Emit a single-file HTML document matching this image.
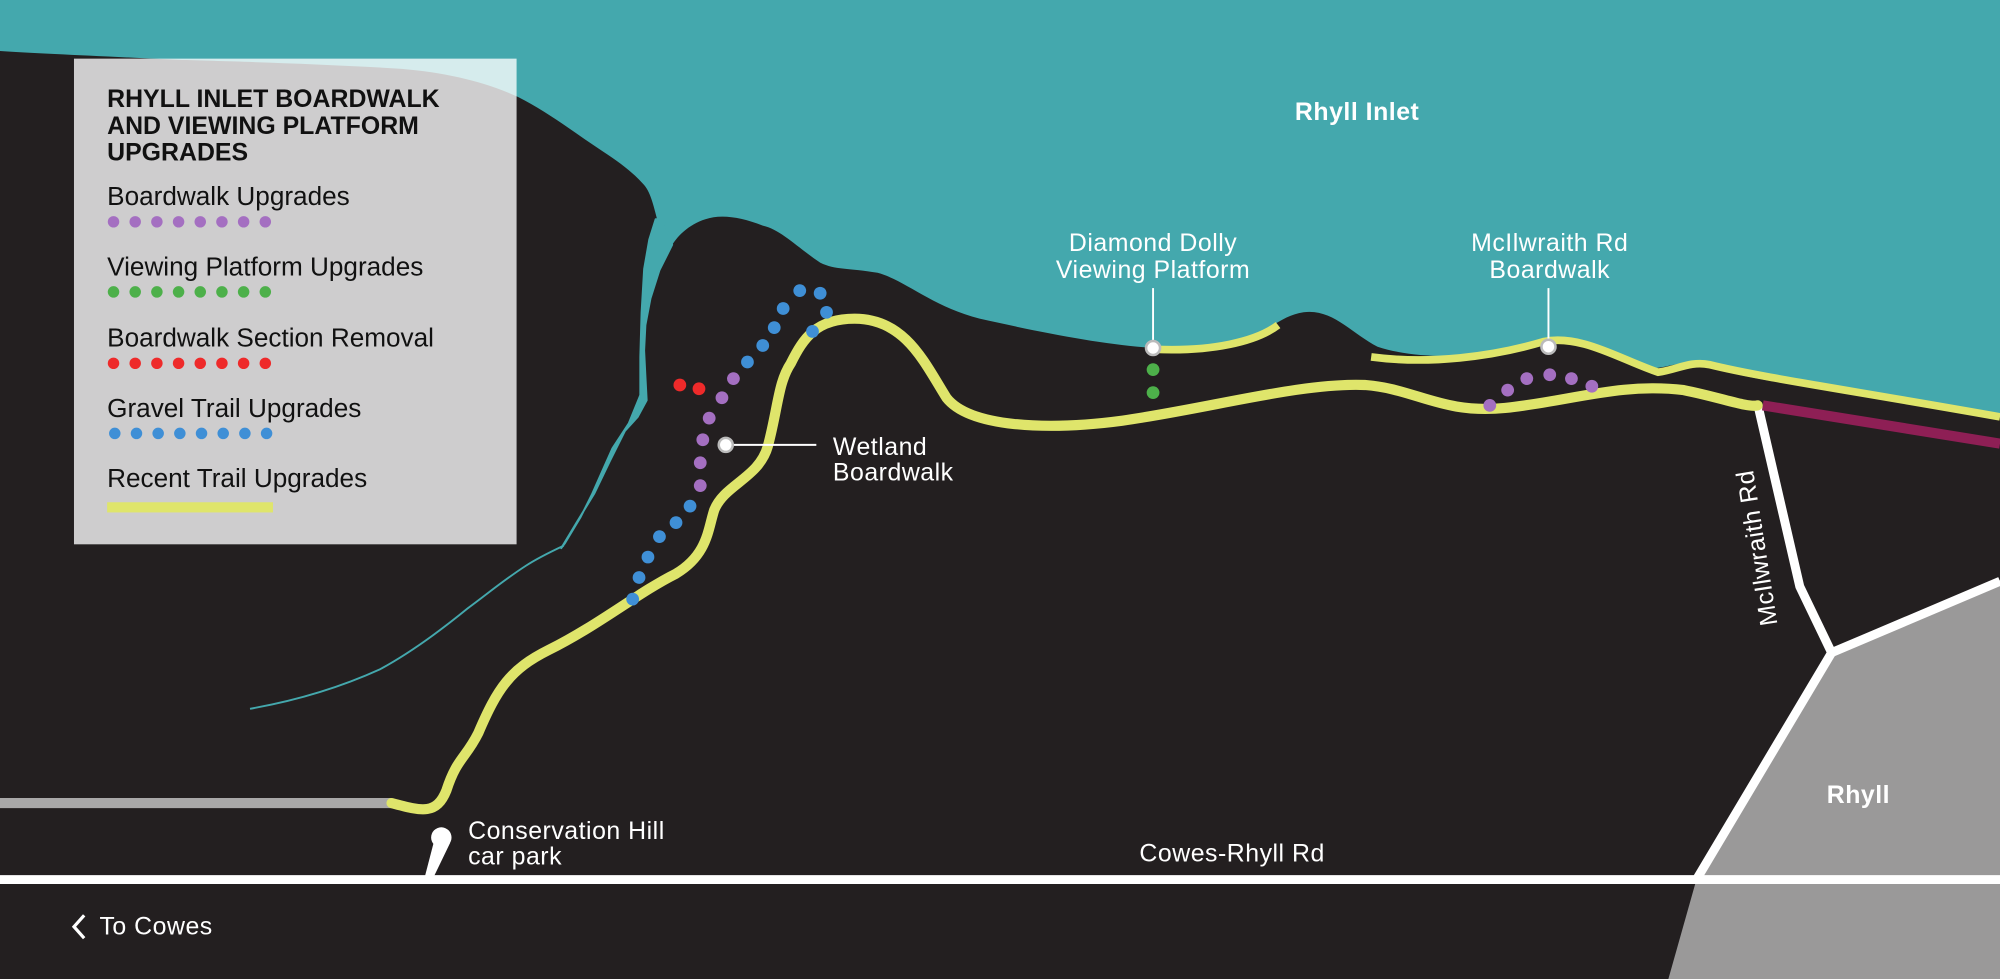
<!DOCTYPE html>
<html><head><meta charset="utf-8"><style>
html,body{margin:0;padding:0;background:#231f20;}
svg{display:block;}
text{font-family:"Liberation Sans",sans-serif;}
</style></head><body>
<svg width="2000" height="979" viewBox="0 0 1568 768" preserveAspectRatio="none" xmlns="http://www.w3.org/2000/svg">
<rect x="0" y="0" width="1568" height="768" fill="#231f20"/>
<!-- sea -->
<path d="M0,0 L1568,0 L1568,326 C1520,318 1470,310 1440,306 C1400,302 1360,294 1330,286 C1310,282 1300,294 1285,286 C1260,272 1230,262 1200,270 C1160,282 1110,282 1080,272 C1060,262 1045,242 1022,245 C1000,248 990,268 950,273 C900,277 840,266 768,250 C730,240 710,220 688,214 C665,210 655,212 643,206 C625,194 612,180 598,177 C580,170 565,168 553,172 C540,176 530,186 526,194 L516,175 C512,160 510,150 504,144 C495,134 485,127 473,119 C450,104 430,88 406,76 C380,64 350,57 315,54 C250,50 180,48 140,47 C80,44 30,42 0,40 Z" fill="#44a8ad"/>
<polygon points="527,192 517,212 510,234 506,255 505,275 506,295 507,314 500,327 490,338 478,362 466,387 452,410 440,430 443,426 455,406 464,388 472,370 480,352 493,332 502,310 502,280 503,245 505,211 509,188 514,172 520,172" fill="#44a8ad" stroke="#44a8ad" stroke-width="1.5" stroke-linejoin="round"/>
<path d="M442,428 C425,436 418,440 412,444 C395,455 382,466 367,477 C345,495 322,512 298,525 C265,540 230,550 196,556" stroke="#44a8ad" stroke-width="1.5" fill="none"/>
<!-- Rhyll town -->
<polygon points="1435,513 1568,455 1568,768 1308,768 1330,690" fill="#9a9999"/>
<!-- legend -->
<rect x="58" y="46" width="347" height="381" fill="#ffffff" fill-opacity="0.78"/>
<g font-size="19.5" font-weight="bold" fill="#111">
<text x="84" y="84">RHYLL INLET BOARDWALK</text>
<text x="84" y="105">AND VIEWING PLATFORM</text>
<text x="84" y="126">UPGRADES</text>
</g>
<g font-size="20.5" fill="#111">
<text x="84" y="161">Boardwalk Upgrades</text>
<text x="84" y="216">Viewing Platform Upgrades</text>
<text x="84" y="272">Boardwalk Section Removal</text>
<text x="84" y="327">Gravel Trail Upgrades</text>
<text x="84" y="382">Recent Trail Upgrades</text>
</g>
<g fill="#a46fc1"><circle cx="89" cy="174" r="4.5"/><circle cx="106" cy="174" r="4.5"/><circle cx="123" cy="174" r="4.5"/><circle cx="140" cy="174" r="4.5"/><circle cx="157" cy="174" r="4.5"/><circle cx="174" cy="174" r="4.5"/><circle cx="191" cy="174" r="4.5"/><circle cx="208" cy="174" r="4.5"/></g>
<g fill="#4db04a"><circle cx="89" cy="229" r="4.5"/><circle cx="106" cy="229" r="4.5"/><circle cx="123" cy="229" r="4.5"/><circle cx="140" cy="229" r="4.5"/><circle cx="157" cy="229" r="4.5"/><circle cx="174" cy="229" r="4.5"/><circle cx="191" cy="229" r="4.5"/><circle cx="208" cy="229" r="4.5"/></g>
<g fill="#ee2a2a"><circle cx="89" cy="285" r="4.5"/><circle cx="106" cy="285" r="4.5"/><circle cx="123" cy="285" r="4.5"/><circle cx="140" cy="285" r="4.5"/><circle cx="157" cy="285" r="4.5"/><circle cx="174" cy="285" r="4.5"/><circle cx="191" cy="285" r="4.5"/><circle cx="208" cy="285" r="4.5"/></g>
<g fill="#3f8fd6"><circle cx="90" cy="340" r="4.5"/><circle cx="107" cy="340" r="4.5"/><circle cx="124" cy="340" r="4.5"/><circle cx="141" cy="340" r="4.5"/><circle cx="158" cy="340" r="4.5"/><circle cx="175" cy="340" r="4.5"/><circle cx="192" cy="340" r="4.5"/><circle cx="209" cy="340" r="4.5"/></g>
<rect x="84" y="394" width="130" height="8" fill="#dfe56b"/>
<!-- roads -->
<g stroke="#fff" stroke-width="7" fill="none" stroke-linejoin="round">
<line x1="0" y1="690" x2="1568" y2="690"/>
<polyline points="1378,317 1411,460 1436,512 1330,690"/>
<line x1="1436" y1="512" x2="1568" y2="456"/>
</g>
<line x1="1382" y1="318" x2="1568" y2="348" stroke="#8e1f55" stroke-width="8"/>
<line x1="0" y1="630" x2="307" y2="630" stroke="#a9a8a8" stroke-width="8"/>
<!-- car park pin -->
<circle cx="346" cy="657" r="8" fill="#fff"/>
<polygon points="340,661 353,661 340,688 333,688" fill="#fff"/>
<!-- coastal yellow -->
<path d="M905,274 C950,276 985,268 1002,255 M1075,280 C1120,286 1170,280 1210,268 C1240,262 1270,282 1300,292 C1315,290 1325,283 1340,286 C1380,296 1450,306 1568,327" stroke="#dfe56b" stroke-width="6" fill="none"/>
<!-- main trail -->
<path d="M307,630 C330,636 342,640 350,620 C358,595 365,595 375,575 C390,540 400,525 430,510 C470,490 500,465 530,450 C555,435 555,415 560,400 C568,380 595,375 602,350 C610,320 610,300 620,285 C630,265 640,250 670,250 C710,250 725,285 742,312 C760,335 820,338 880,330 C950,320 1020,300 1070,302 C1110,305 1130,325 1180,320 C1230,315 1270,300 1320,306 C1350,312 1370,320 1378,318" stroke="#dfe56b" stroke-width="8" fill="none" stroke-linecap="round"/>
<!-- dots -->
<g fill="#3f8fd6"><circle cx="496" cy="470" r="5"/><circle cx="501" cy="453" r="5"/><circle cx="508" cy="437" r="5"/><circle cx="517" cy="421" r="5"/><circle cx="530" cy="410" r="5"/><circle cx="541" cy="397" r="5"/><circle cx="586" cy="284" r="5"/><circle cx="598" cy="271" r="5"/><circle cx="607" cy="257" r="5"/><circle cx="614" cy="242" r="5"/><circle cx="627" cy="228" r="5"/><circle cx="643" cy="230" r="5"/><circle cx="648" cy="245" r="5"/><circle cx="637" cy="260" r="5"/></g>
<g fill="#a46fc1"><circle cx="549" cy="381" r="5"/><circle cx="549" cy="363" r="5"/><circle cx="551" cy="345" r="5"/><circle cx="556" cy="328" r="5"/><circle cx="566" cy="312" r="5"/><circle cx="575" cy="297" r="5"/>
<circle cx="1168" cy="318" r="5"/><circle cx="1182" cy="306" r="5"/><circle cx="1197" cy="297" r="5"/><circle cx="1215" cy="294" r="5"/><circle cx="1232" cy="297" r="5"/><circle cx="1248" cy="303" r="5"/></g>
<g fill="#ee2a2a"><circle cx="533" cy="302" r="5"/><circle cx="548" cy="305" r="5"/></g>
<g fill="#4db04a"><circle cx="904" cy="290" r="5"/><circle cx="904" cy="308" r="5"/></g>
<!-- markers -->
<g stroke="#fff" stroke-width="1.5">
<line x1="575" y1="349" x2="640" y2="349"/>
<line x1="904" y1="226" x2="904" y2="268"/>
<line x1="1214" y1="226" x2="1214" y2="267"/>
</g>
<g fill="#fff" stroke="#bbb" stroke-width="2"><circle cx="569" cy="349" r="5.5"/><circle cx="904" cy="273" r="5.5"/><circle cx="1214" cy="272" r="5.5"/></g>
<!-- labels -->
<g fill="#fff" font-size="19.5" letter-spacing="0.4">
<text x="1064" y="94" text-anchor="middle" font-weight="bold">Rhyll Inlet</text>
<text x="904" y="197" text-anchor="middle">Diamond Dolly</text>
<text x="904" y="218" text-anchor="middle">Viewing Platform</text>
<text x="1215" y="197" text-anchor="middle">McIlwraith Rd</text>
<text x="1215" y="218" text-anchor="middle">Boardwalk</text>
<text x="653" y="357">Wetland</text>
<text x="653" y="377">Boardwalk</text>
<text x="367" y="658">Conservation Hill</text>
<text x="367" y="678">car park</text>
<text x="966" y="676" text-anchor="middle">Cowes-Rhyll Rd</text>
<text x="1457" y="630" text-anchor="middle" font-weight="bold">Rhyll</text>
<text x="78" y="733">To Cowes</text>
<text x="0" y="7" transform="translate(1377,430) rotate(-99)" text-anchor="middle">McIlwraith Rd</text>
</g>
<polyline points="66,718 58,727 66,736" stroke="#fff" stroke-width="2.5" fill="none"/>
</svg>
</body></html>
